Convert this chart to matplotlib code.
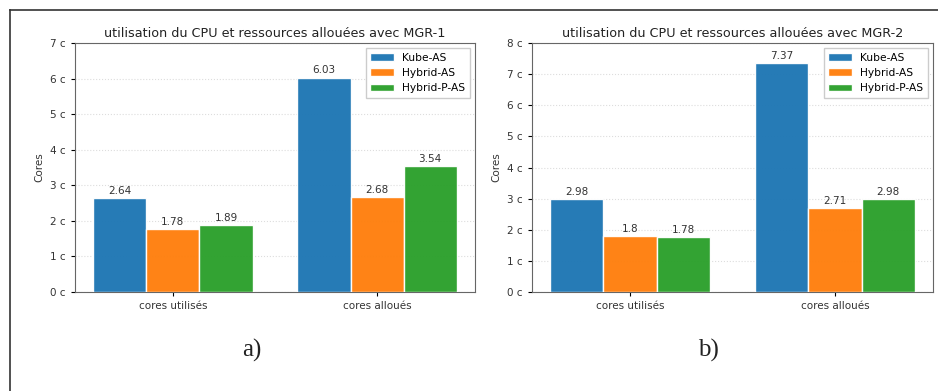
import numpy as np
import matplotlib
matplotlib.use("Agg")
import matplotlib.pyplot as plt
from matplotlib.lines import Line2D
from matplotlib.ticker import FuncFormatter

categories = ["cores utilisés", "cores alloués"]
series = ["Kube-AS", "Hybrid-AS", "Hybrid-P-AS"]
colors = ["#1f77b4", "#ff7f0e", "#2ca02c"]

# MGR-1
mgr1_kube = [2.64, 6.03]
mgr1_hybrid = [1.78, 2.68]
mgr1_hybrid_p = [1.89, 3.54]

# MGR-2
mgr2_kube = [2.98, 7.37]
mgr2_hybrid = [1.8, 2.71]
mgr2_hybrid_p = [1.78, 2.98]

W, H = 938, 391
fig = plt.figure(figsize=(W / 100, H / 100), dpi=100)

def px_axes(x0, y0, x1, y1):
    return fig.add_axes([x0 / W, 1 - y1 / H, (x1 - x0) / W, (y1 - y0) / H])

def draw(ax, data, title, ymax):
    x = np.arange(len(categories))
    w = 0.26
    for i, (vals, name) in enumerate(zip(data, series)):
        bars = ax.bar(x + (i - 1) * w, vals, w, color=colors[i], label=name,
                      edgecolor="white", linewidth=1, alpha=0.97, zorder=3)
        for b, v in zip(bars, vals):
            ax.text(b.get_x() + b.get_width() / 2, v + 0.06, f"{v:g}",
                    ha="center", va="bottom", fontsize=7.5, color="#333333")
    ax.set_xticks(x)
    ax.set_xticklabels(categories, fontsize=7.5, color="#333333")
    ax.set_ylim(0, ymax)
    ax.set_yticks(range(ymax + 1))
    ax.yaxis.set_major_formatter(FuncFormatter(lambda v, p: f"{int(v)} c"))
    ax.tick_params(axis="y", labelsize=7.5, labelcolor="#333333", length=3)
    ax.tick_params(axis="x", length=3)
    ax.set_ylabel("Cores", fontsize=7.5, color="#333333")
    ax.set_title(title, fontsize=9.2, color="#222222", pad=4)
    ax.grid(axis="y", linestyle=":", color="#dddddd", linewidth=0.8, zorder=0)
    for s in ax.spines.values():
        s.set_color("#666666")
    ax.legend(loc="upper right", fontsize=7.7, framealpha=1, edgecolor="#cccccc",
              fancybox=False, handlelength=2.2)

ax1 = px_axes(75, 43, 475, 292)
draw(ax1, [mgr1_kube, mgr1_hybrid, mgr1_hybrid_p],
     "utilisation du CPU et ressources allouées avec MGR-1", 7)

ax2 = px_axes(532, 43, 933, 292)
draw(ax2, [mgr2_kube, mgr2_hybrid, mgr2_hybrid_p],
     "utilisation du CPU et ressources allouées avec MGR-2", 8)

fig.text(252 / W, 1 - 350 / H, "a)", ha="center", va="center",
         fontsize=18, family="Liberation Serif", color="#222222")
fig.text(708 / W, 1 - 350 / H, "b)", ha="center", va="center",
         fontsize=18, family="Liberation Serif", color="#222222")

# outer frame
fig.add_artist(Line2D([10 / W, 1], [1 - 10 / H, 1 - 10 / H], color="#333333", linewidth=1.2))
fig.add_artist(Line2D([10 / W, 10 / W], [0, 1 - 10 / H], color="#333333", linewidth=1.2))

fig.savefig("out.png", dpi=100, facecolor="white")
